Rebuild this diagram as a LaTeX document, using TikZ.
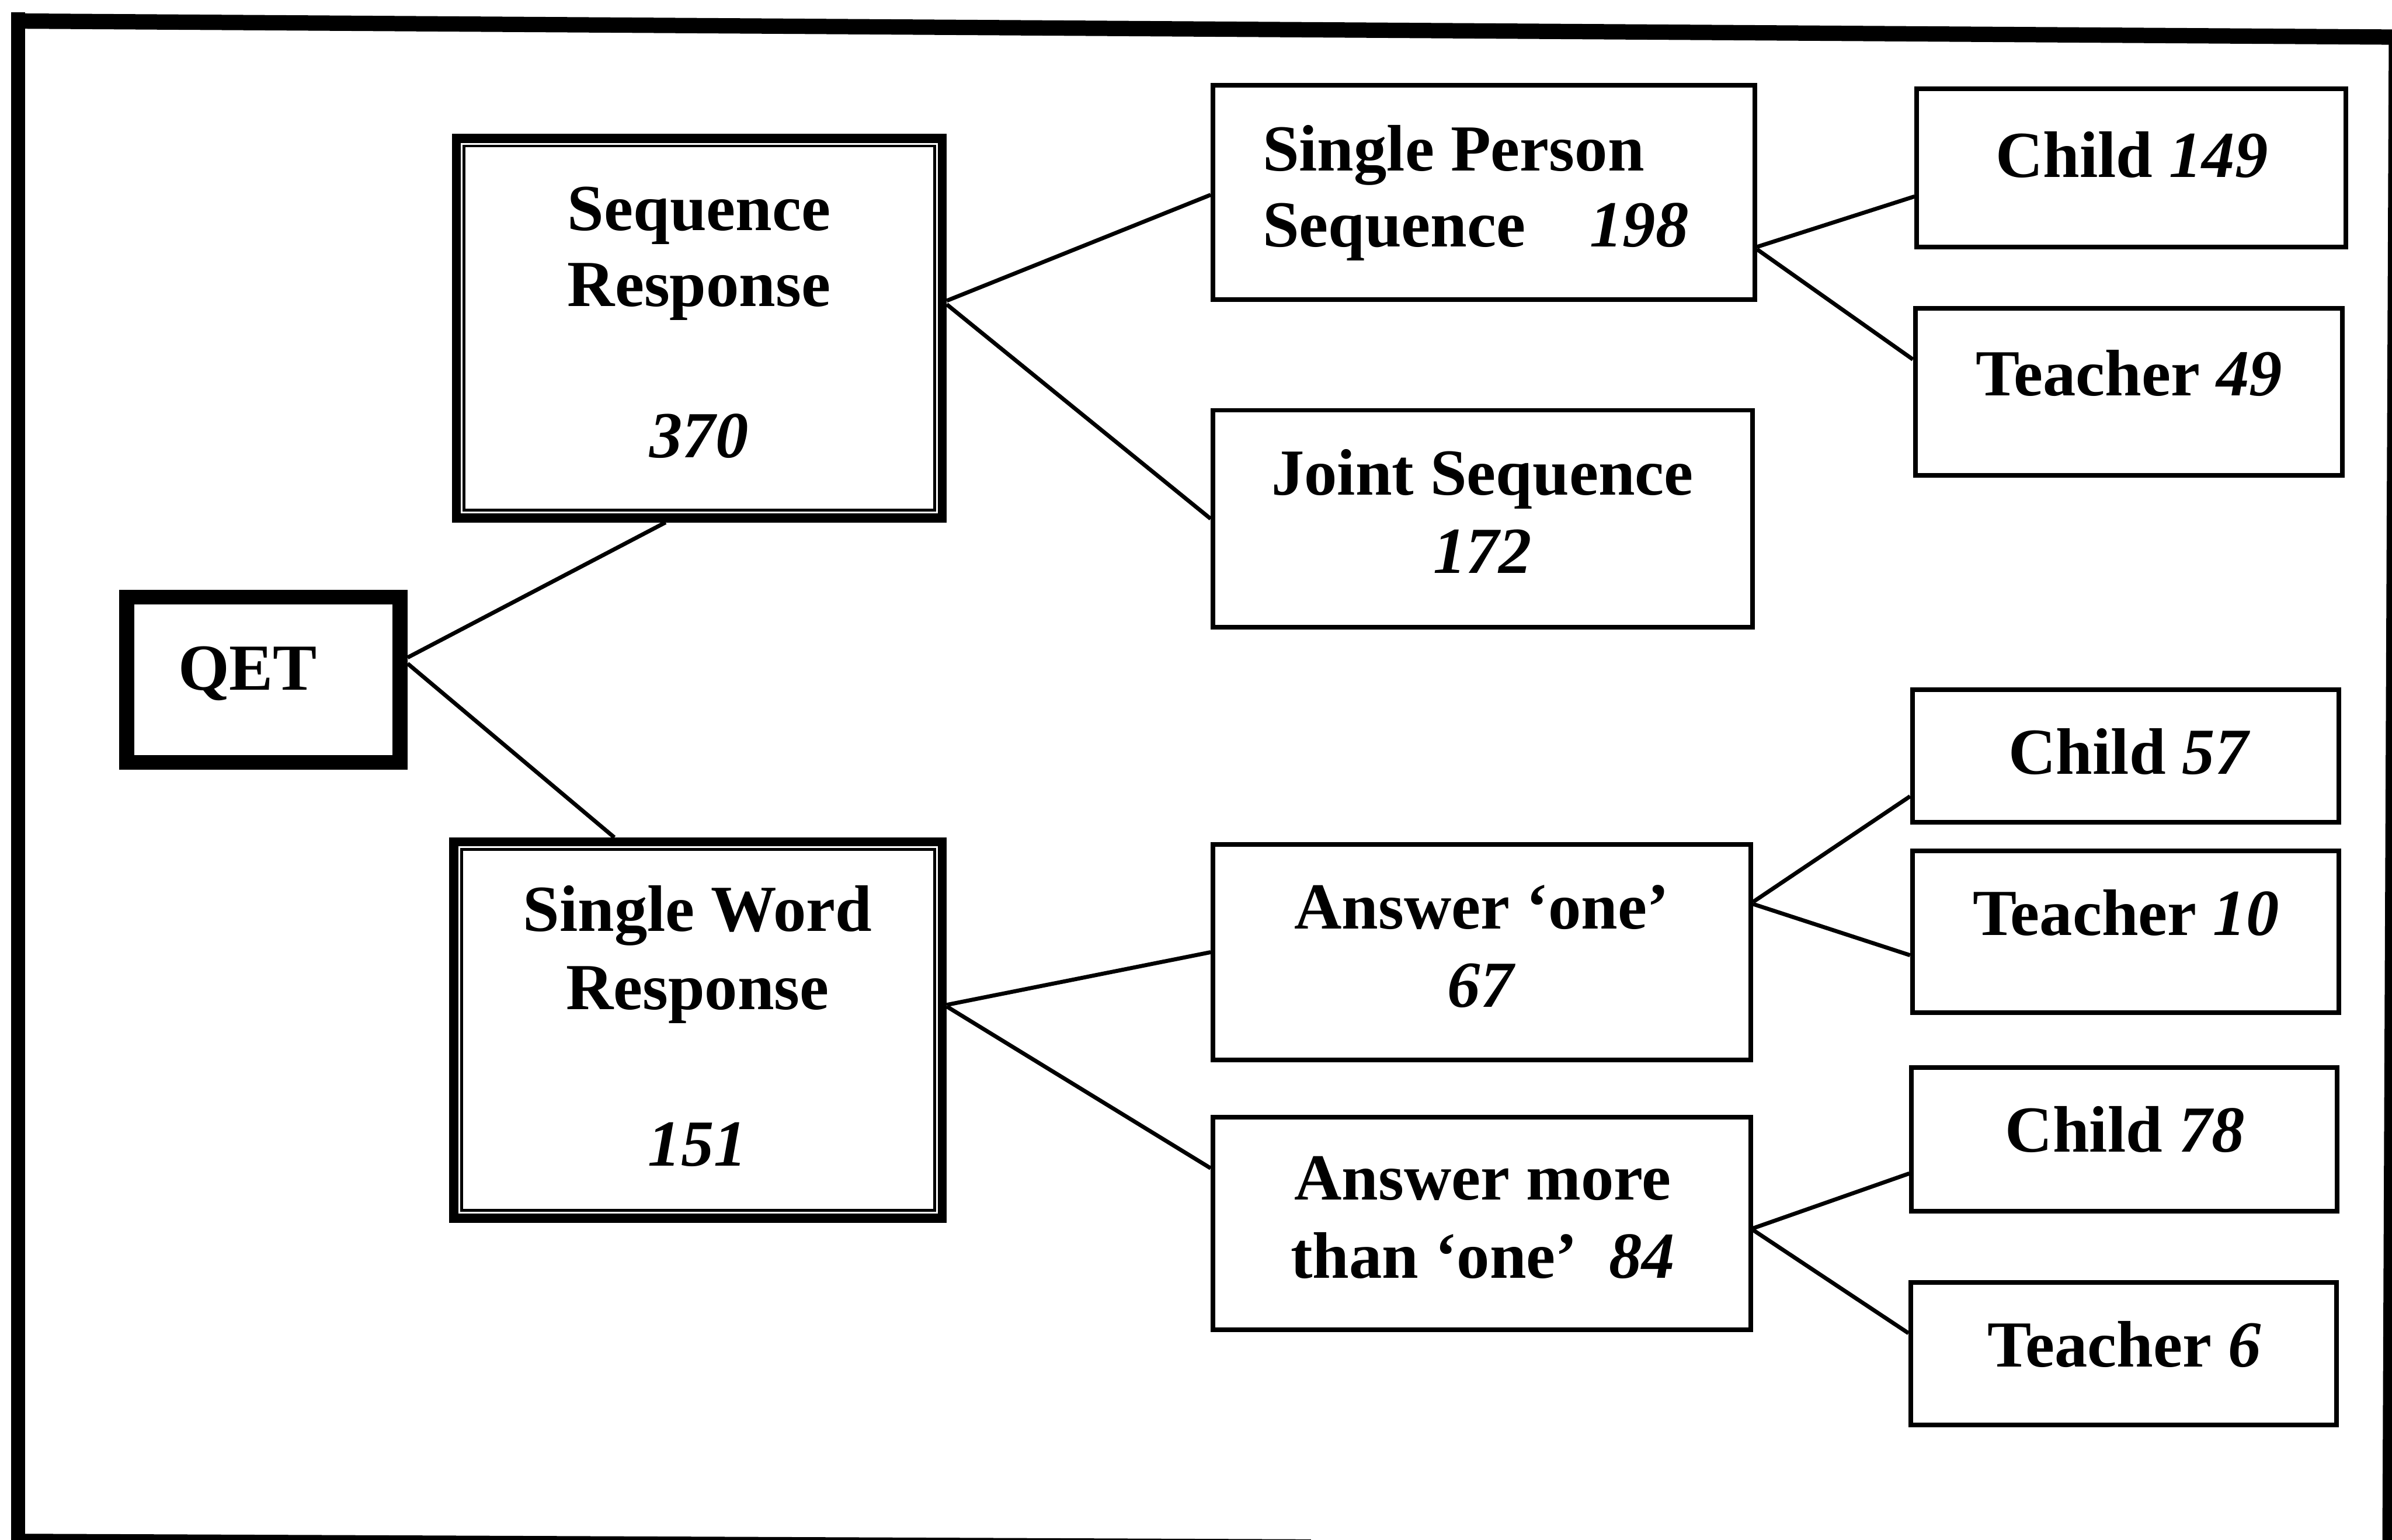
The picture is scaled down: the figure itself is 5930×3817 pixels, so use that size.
\documentclass[tikz,border=0pt]{standalone}
\usepackage{fontspec}
\setmainfont{Liberation Serif}
\usetikzlibrary{fit}
\begin{document}
\begin{tikzpicture}[x=0.1pt,y=-0.1pt,
  box/.style={draw, line width=1.15pt, rectangle, inner sep=0pt},
  txt/.style={inner sep=0pt, anchor=base, font=\fontsize{16.3}{19.4}\selectfont\bfseries},
  txtwide/.style={txt, font=\fontsize{16.3}{18.8}\selectfont\bfseries},
  link/.style={line width=1pt}]
\fill[white] (0,0) rectangle (5930,3817);
\useasboundingbox (0,0) rectangle (5930,3817);

% outer frame
\draw[line width=3.4pt] (45,30) -- (45,3830);
\draw[line width=3.8pt] (28,52) -- (5945,92);
\draw[line width=2.4pt] (5934,80) -- (5918,3830);
\draw[line width=2pt] (30,3812) -- (3250,3826);

% boxes
\node[box, line width=3.7pt, fit={(314,1480) (992,1890)}] (qet) {};
\node[box, line width=2.2pt, fit={(1131,343) (2336,1284)}] (sr) {};
\draw[line width=0.7pt] ([shift={(30,30)}]sr.north west) rectangle ([shift={(-30,-30)}]sr.south east);
\node[box, line width=2.2pt, fit={(1125,2087) (2336,3020)}] (sw) {};
\draw[line width=0.7pt] ([shift={(30,30)}]sw.north west) rectangle ([shift={(-30,-30)}]sw.south east);

\node[box, fit={(3007,211) (4350,743)}] (sps) {};
\node[box, fit={(3007,1017) (4345,1555)}] (js) {};
\node[box, fit={(3007,2093) (4340,2628)}] (ao) {};
\node[box, fit={(3007,2770) (4340,3296)}] (am) {};

\node[box, fit={(4752,220) (5815,612)}] (c149) {};
\node[box, fit={(4748,765) (5807,1178)}] (t49) {};
\node[box, fit={(4741,1710) (5798,2038)}] (c57) {};
\node[box, fit={(4741,2110) (5798,2511)}] (t10) {};
\node[box, fit={(4739,2646) (5794,3002)}] (c78) {};
\node[box, fit={(4737,3179) (5792,3533)}] (t6) {};

% texts
\node[txt] (qetT) at (614,1710) {QET};
\node[txtwide] (srT) at (1733,571) {\begin{tabular}[t]{@{}c@{}}Sequence\\Response\\ \\\textit{370}\end{tabular}};
\node[txt] (swT) at (1729,2309) {\begin{tabular}[t]{@{}c@{}}Single Word\\Response\\ \\\textit{151}\end{tabular}};
\node[txtwide, anchor=base west] (spsT) at (3128,423) {\begin{tabular}[t]{@{}l@{}}Single Person\\Sequence\hspace{0.98em}\textit{198}\end{tabular}};
\node[txt] (jsT) at (3675,1227) {\begin{tabular}[t]{@{}c@{}}Joint Sequence\\\textit{172}\end{tabular}};
\node[txt] (aoT) at (3673,2303) {\begin{tabular}[t]{@{}c@{}}Answer ‘one’\\\textit{67}\end{tabular}};
\node[txt] (amT) at (3676,2975) {\begin{tabular}[t]{@{}c@{}}Answer more\\than ‘one’\hspace{0.48em}\textit{84}\end{tabular}};

\node[txt] (c149T) at (5285,440) {Child \textit{149}};
\node[txt] (t49T) at (5278,981) {Teacher \textit{49}};
\node[txt] (c57T) at (5279,1919) {Child \textit{57}};
\node[txt] (t10T) at (5270,2319) {Teacher \textit{10}};
\node[txt] (c78T) at (5268,2855) {Child \textit{78}};
\node[txt] (t6T) at (5266,3388) {Teacher \textit{6}};

% connectors
\draw[link] ([yshift=5.5pt]qet.east) -- ([xshift=-8.35pt]sr.south);
\draw[link] ([yshift=4pt]qet.east) -- ([xshift=-20.75pt]sw.north);
\draw[link] ([yshift=6.8pt]sr.east) -- ([yshift=-0.6pt]sps.west);
\draw[link] ([yshift=5.9pt]sr.east) -- (js.west);
\draw[link] ([yshift=6.25pt]sw.east) -- (ao.west);
\draw[link] ([yshift=5.85pt]sw.east) -- ([yshift=13.7pt]am.west);
\draw[link] ([yshift=-13.5pt]sps.east) -- ([yshift=-7.1pt]c149.west);
\draw[link] ([yshift=-14.1pt]sps.east) -- ([yshift=8.05pt]t49.west);
\draw[link] ([yshift=12.45pt]ao.east) -- ([yshift=-10pt]c57.west);
\draw[link] ([yshift=11.95pt]ao.east) -- ([yshift=-5.75pt]t10.west);
\draw[link] ([yshift=-1.2pt]am.east) -- ([yshift=-8.5pt]c78.west);
\draw[link] ([yshift=-1.6pt]am.east) -- ([yshift=5.1pt]t6.west);
\end{tikzpicture}
\end{document}
